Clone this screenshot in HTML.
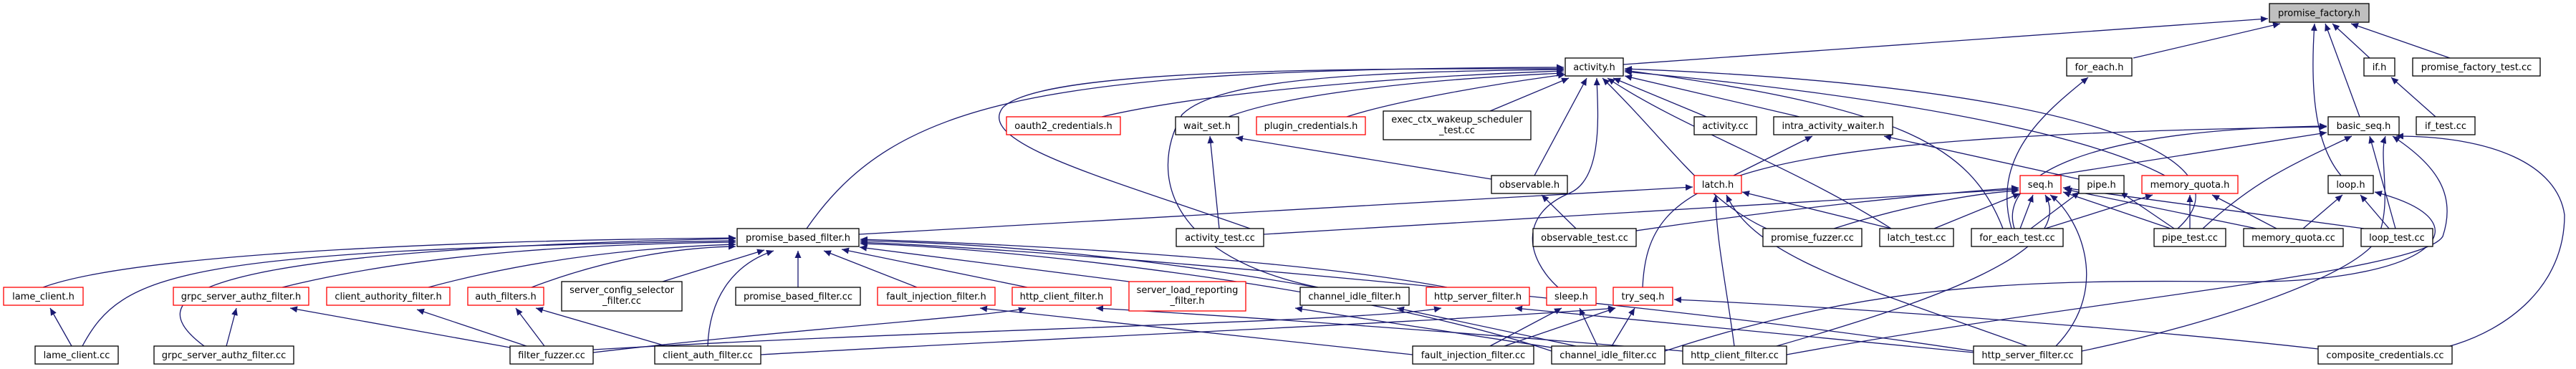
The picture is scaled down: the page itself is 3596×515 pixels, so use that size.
<!DOCTYPE html>
<html><head><meta charset="utf-8"><style>
html,body{margin:0;padding:0;background:#fff}
svg{display:block}
text{font-family:"DejaVu Sans","Liberation Sans",sans-serif;font-size:13px;fill:#000}
.e{stroke:#191970;stroke-width:1.3;fill:none;marker-end:url(#a)}
.n{fill:#fff;stroke:#000;stroke-width:1.3}
.r{fill:#fff;stroke:#ff0000;stroke-width:1.3}
</style></head><body>
<svg width="3596" height="515" viewBox="0 0 3596 515" xmlns="http://www.w3.org/2000/svg">
<defs><marker id="a" markerUnits="userSpaceOnUse" markerWidth="11" markerHeight="9" refX="10" refY="4.5" orient="auto"><path d="M0,0 L10,4.5 L0,9 z" fill="#191970"/></marker></defs>
<g>
<path class="e" d="M2266 90 L3166 26"/>
<path class="e" d="M2978 81 L3183 33"/>
<path class="e" d="M3308 81 L3256 33"/>
<path class="e" d="M3420 81 L3282 33"/>
<path class="e" d="M3294 163 L3246 33"/>
<path class="e" d="M3268 245 C3230 200,3225 120,3231 33"/>
<path class="e" d="M1126 319 C1250 140,1450 96,2183 94"/>
<path class="e" d="M1538 163 C1700 125,2000 105,2183 99"/>
<path class="e" d="M1715 163 C1800 130,2000 110,2183 102"/>
<path class="e" d="M1880 163 C1950 140,2100 115,2185 104"/>
<path class="e" d="M2080 155 L2190 109"/>
<path class="e" d="M2382 163 L2252 109"/>
<path class="e" d="M2512 163 L2268 106"/>
<path class="e" d="M2142 245 L2215 109"/>
<path class="e" d="M2175 401 C2130 360,2120 300,2190 270 C2240 250,2230 150,2229 109"/>
<path class="e" d="M2466 319 C2380 280,2330 200,2237 109"/>
<path class="e" d="M2640 319 C2500 230,2350 180,2244 109"/>
<path class="e" d="M1745 319 C1550 250,1360 200,1400 150 C1450 100,1800 95,2183 96"/>
<path class="e" d="M1840 401 C1640 360,1600 250,1650 160 C1700 110,1900 100,2183 97"/>
<path class="e" d="M2796 319 C2750 200,2650 150,2268 98"/>
<path class="e" d="M3040 319 C3150 220,2900 120,2268 96"/>
<path class="e" d="M3022 245 C2900 180,2600 130,2268 100"/>
<path class="e" d="M2808 319 C2780 220,2850 160,2915 108"/>
<path class="e" d="M3400 163 L3338 108"/>
<path class="e" d="M2293 401 C2300 250,2400 190,3248 177"/>
<path class="e" d="M2866 245 L3248 185"/>
<path class="e" d="M2812 319 C2790 250,2900 180,3248 176"/>
<path class="e" d="M3075 319 C3150 250,3200 230,3283 190"/>
<path class="e" d="M3344 319 L3308 190"/>
<path class="e" d="M3420 483 C3500 460,3580 400,3580 300 C3570 230,3480 190,3345 190"/>
<path class="e" d="M2906 490 C3100 450,3300 380,3320 330 C3340 280,3320 220,3330 190"/>
<path class="e" d="M2494 495 C2900 420,3380 380,3410 330 C3430 270,3400 230,3340 190"/>
<path class="e" d="M2324 490 C2600 400,2800 390,3100 393 C3400 400,3480 310,3315 268"/>
<path class="e" d="M3215 319 L3270 272"/>
<path class="e" d="M3335 319 L3295 272"/>
<path class="e" d="M3057 319 L3057 272"/>
<path class="e" d="M3178 319 L3088 272"/>
<path class="e" d="M2855 319 L3005 272"/>
<path class="e" d="M2835 319 L2903 268"/>
<path class="e" d="M3035 319 L2960 268"/>
<path class="e" d="M1764 327 C2200 300,2600 280,2818 264"/>
<path class="e" d="M2284 322 C2500 290,2700 270,2818 262"/>
<path class="e" d="M2560 319 C2650 290,2750 270,2818 266"/>
<path class="e" d="M2700 319 L2820 270"/>
<path class="e" d="M2820 319 L2838 272"/>
<path class="e" d="M3030 319 L2880 268"/>
<path class="e" d="M3150 319 L2882 264"/>
<path class="e" d="M3300 319 L2880 262"/>
<path class="e" d="M2870 483 C2950 400,2900 300,2862 272"/>
<path class="e" d="M2480 483 C2700 420,2900 350,2855 272"/>
<path class="e" d="M2200 319 L2152 272"/>
<path class="e" d="M1702 319 L1689 190"/>
<path class="e" d="M2082 250 L1725 192"/>
<path class="e" d="M2420 245 L2530 190"/>
<path class="e" d="M2902 250 L2630 190"/>
<path class="e" d="M1199 327 L2363 261"/>
<path class="e" d="M2640 319 L2432 268"/>
<path class="e" d="M2421 483 C2410 400,2395 330,2395 272"/>
<path class="e" d="M2830 483 C2600 400,2450 360,2410 272"/>
<path class="e" d="M60 401 C200 350,700 335,1027 332"/>
<path class="e" d="M115 483 C170 380,250 350,1027 336"/>
<path class="e" d="M285 483 C200 420,220 350,1027 333"/>
<path class="e" d="M394 401 C600 350,850 340,1027 338"/>
<path class="e" d="M598 401 C750 360,900 345,1027 341"/>
<path class="e" d="M742 401 C850 360,950 345,1027 344"/>
<path class="e" d="M925 393 L1067 349"/>
<path class="e" d="M1114 401 L1114 350"/>
<path class="e" d="M1280 401 L1150 350"/>
<path class="e" d="M1434 401 L1175 348"/>
<path class="e" d="M1576 393 L1200 345"/>
<path class="e" d="M1838 401 C1600 360,1400 340,1201 336"/>
<path class="e" d="M2020 401 C1800 360,1400 340,1201 334"/>
<path class="e" d="M988 483 C990 420,1020 370,1080 350"/>
<path class="e" d="M2166 490 C1900 400,1400 345,1201 340"/>
<path class="e" d="M2755 490 C2300 420,1500 350,1201 338"/>
<path class="e" d="M100 483 L70 430"/>
<path class="e" d="M316 483 L330 430"/>
<path class="e" d="M712 485 L405 430"/>
<path class="e" d="M735 483 L582 432"/>
<path class="e" d="M760 483 L720 430"/>
<path class="e" d="M930 483 L748 430"/>
<path class="e" d="M1972 495 L1368 430"/>
<path class="e" d="M828 492 C1100 460,1400 440,1432 430"/>
<path class="e" d="M2349 490 C2000 460,1700 440,1530 430"/>
<path class="e" d="M2166 485 L1808 430"/>
<path class="e" d="M2200 483 L1950 430"/>
<path class="e" d="M828 488 C1300 460,1900 450,2012 430"/>
<path class="e" d="M2755 492 L2115 430"/>
<path class="e" d="M2080 483 L2180 430"/>
<path class="e" d="M2230 483 L2205 430"/>
<path class="e" d="M2100 483 L2255 430"/>
<path class="e" d="M2250 483 L2282 430"/>
<path class="e" d="M3236 487 C3000 460,2600 430,2337 418"/>
<path class="e" d="M1062 495 C1500 470,2000 450,2255 430"/>
</g>
<g>
<rect x="3168" y="5" width="139" height="26" fill="#bfbfbf" stroke="#000" stroke-width="1.3"/><text x="3237.5" y="22.5" text-anchor="middle">promise_factory.h</text>
<rect class="n" x="2185" y="81" width="81" height="25"/><text x="2225.5" y="98" text-anchor="middle">activity.h</text>
<rect class="n" x="2885" y="81" width="91" height="25"/><text x="2930.5" y="98" text-anchor="middle">for_each.h</text>
<rect class="n" x="3300" y="81" width="43" height="25"/><text x="3321.5" y="98" text-anchor="middle">if.h</text>
<rect class="n" x="3368" y="81" width="178" height="25"/><text x="3457" y="98" text-anchor="middle">promise_factory_test.cc</text>
<rect class="r" x="1405" y="163" width="159" height="25"/><text x="1484.5" y="180" text-anchor="middle">oauth2_credentials.h</text>
<rect class="n" x="1641" y="163" width="88" height="25"/><text x="1685" y="180" text-anchor="middle">wait_set.h</text>
<rect class="r" x="1754" y="163" width="152" height="25"/><text x="1830" y="180" text-anchor="middle">plugin_credentials.h</text>
<rect class="n" x="1931" y="155" width="206" height="40"/><text x="2034" y="171" text-anchor="middle">exec_ctx_wakeup_scheduler</text><text x="2034" y="186" text-anchor="middle">_test.cc</text>
<rect class="n" x="2365" y="163" width="87" height="25"/><text x="2408.5" y="180" text-anchor="middle">activity.cc</text>
<rect class="n" x="2476" y="163" width="166" height="25"/><text x="2559" y="180" text-anchor="middle">intra_activity_waiter.h</text>
<rect class="n" x="3250" y="163" width="99" height="25"/><text x="3299.5" y="180" text-anchor="middle">basic_seq.h</text>
<rect class="n" x="3373" y="163" width="82" height="25"/><text x="3414" y="180" text-anchor="middle">if_test.cc</text>
<rect class="n" x="2082" y="245" width="106" height="25"/><text x="2135" y="262" text-anchor="middle">observable.h</text>
<rect class="r" x="2365" y="245" width="66" height="25"/><text x="2398" y="262" text-anchor="middle">latch.h</text>
<rect class="r" x="2820" y="245" width="57" height="25"/><text x="2848.5" y="262" text-anchor="middle">seq.h</text>
<rect class="n" x="2902" y="245" width="63" height="25"/><text x="2933.5" y="262" text-anchor="middle">pipe.h</text>
<rect class="r" x="2990" y="245" width="134" height="25"/><text x="3057" y="262" text-anchor="middle">memory_quota.h</text>
<rect class="n" x="3250" y="245" width="63" height="25"/><text x="3281.5" y="262" text-anchor="middle">loop.h</text>
<rect class="n" x="1029" y="319" width="170" height="25"/><text x="1114" y="336" text-anchor="middle">promise_based_filter.h</text>
<rect class="n" x="1642" y="319" width="122" height="25"/><text x="1703" y="336" text-anchor="middle">activity_test.cc</text>
<rect class="n" x="2140" y="319" width="144" height="25"/><text x="2212" y="336" text-anchor="middle">observable_test.cc</text>
<rect class="n" x="2461" y="319" width="138" height="25"/><text x="2530" y="336" text-anchor="middle">promise_fuzzer.cc</text>
<rect class="n" x="2624" y="319" width="103" height="25"/><text x="2675.5" y="336" text-anchor="middle">latch_test.cc</text>
<rect class="n" x="2752" y="319" width="128" height="25"/><text x="2816" y="336" text-anchor="middle">for_each_test.cc</text>
<rect class="n" x="3007" y="319" width="100" height="25"/><text x="3057" y="336" text-anchor="middle">pipe_test.cc</text>
<rect class="n" x="3132" y="319" width="139" height="25"/><text x="3201.5" y="336" text-anchor="middle">memory_quota.cc</text>
<rect class="n" x="3296" y="319" width="100" height="25"/><text x="3346" y="336" text-anchor="middle">loop_test.cc</text>
<rect class="r" x="5" y="401" width="111" height="25"/><text x="60.5" y="418" text-anchor="middle">lame_client.h</text>
<rect class="r" x="242" y="401" width="189" height="25"/><text x="336.5" y="418" text-anchor="middle">grpc_server_authz_filter.h</text>
<rect class="r" x="456" y="401" width="172" height="25"/><text x="542" y="418" text-anchor="middle">client_authority_filter.h</text>
<rect class="r" x="653" y="401" width="106" height="25"/><text x="706" y="418" text-anchor="middle">auth_filters.h</text>
<rect class="n" x="784" y="393" width="168" height="41"/><text x="868" y="409" text-anchor="middle">server_config_selector</text><text x="868" y="424" text-anchor="middle">_filter.cc</text>
<rect class="n" x="1027" y="401" width="174" height="25"/><text x="1114" y="418" text-anchor="middle">promise_based_filter.cc</text>
<rect class="r" x="1225" y="401" width="164" height="25"/><text x="1307" y="418" text-anchor="middle">fault_injection_filter.h</text>
<rect class="r" x="1413" y="401" width="138" height="25"/><text x="1482" y="418" text-anchor="middle">http_client_filter.h</text>
<rect class="r" x="1576" y="393" width="163" height="41"/><text x="1657.5" y="409" text-anchor="middle">server_load_reporting</text><text x="1657.5" y="424" text-anchor="middle">_filter.h</text>
<rect class="n" x="1815" y="401" width="152" height="25"/><text x="1891" y="418" text-anchor="middle">channel_idle_filter.h</text>
<rect class="r" x="1991" y="401" width="144" height="25"/><text x="2063" y="418" text-anchor="middle">http_server_filter.h</text>
<rect class="r" x="2159" y="401" width="69" height="25"/><text x="2193.5" y="418" text-anchor="middle">sleep.h</text>
<rect class="r" x="2252" y="401" width="83" height="25"/><text x="2293.5" y="418" text-anchor="middle">try_seq.h</text>
<rect class="n" x="49" y="483" width="116" height="25"/><text x="107" y="500" text-anchor="middle">lame_client.cc</text>
<rect class="n" x="215" y="483" width="195" height="25"/><text x="312.5" y="500" text-anchor="middle">grpc_server_authz_filter.cc</text>
<rect class="n" x="712" y="483" width="116" height="25"/><text x="770" y="500" text-anchor="middle">filter_fuzzer.cc</text>
<rect class="n" x="914" y="483" width="148" height="25"/><text x="988" y="500" text-anchor="middle">client_auth_filter.cc</text>
<rect class="n" x="1972" y="483" width="169" height="25"/><text x="2056.5" y="500" text-anchor="middle">fault_injection_filter.cc</text>
<rect class="n" x="2166" y="483" width="158" height="25"/><text x="2245" y="500" text-anchor="middle">channel_idle_filter.cc</text>
<rect class="n" x="2349" y="483" width="145" height="25"/><text x="2421.5" y="500" text-anchor="middle">http_client_filter.cc</text>
<rect class="n" x="2755" y="483" width="151" height="25"/><text x="2830.5" y="500" text-anchor="middle">http_server_filter.cc</text>
<rect class="n" x="3236" y="483" width="187" height="25"/><text x="3329.5" y="500" text-anchor="middle">composite_credentials.cc</text>
</g>
</svg>
</body></html>
